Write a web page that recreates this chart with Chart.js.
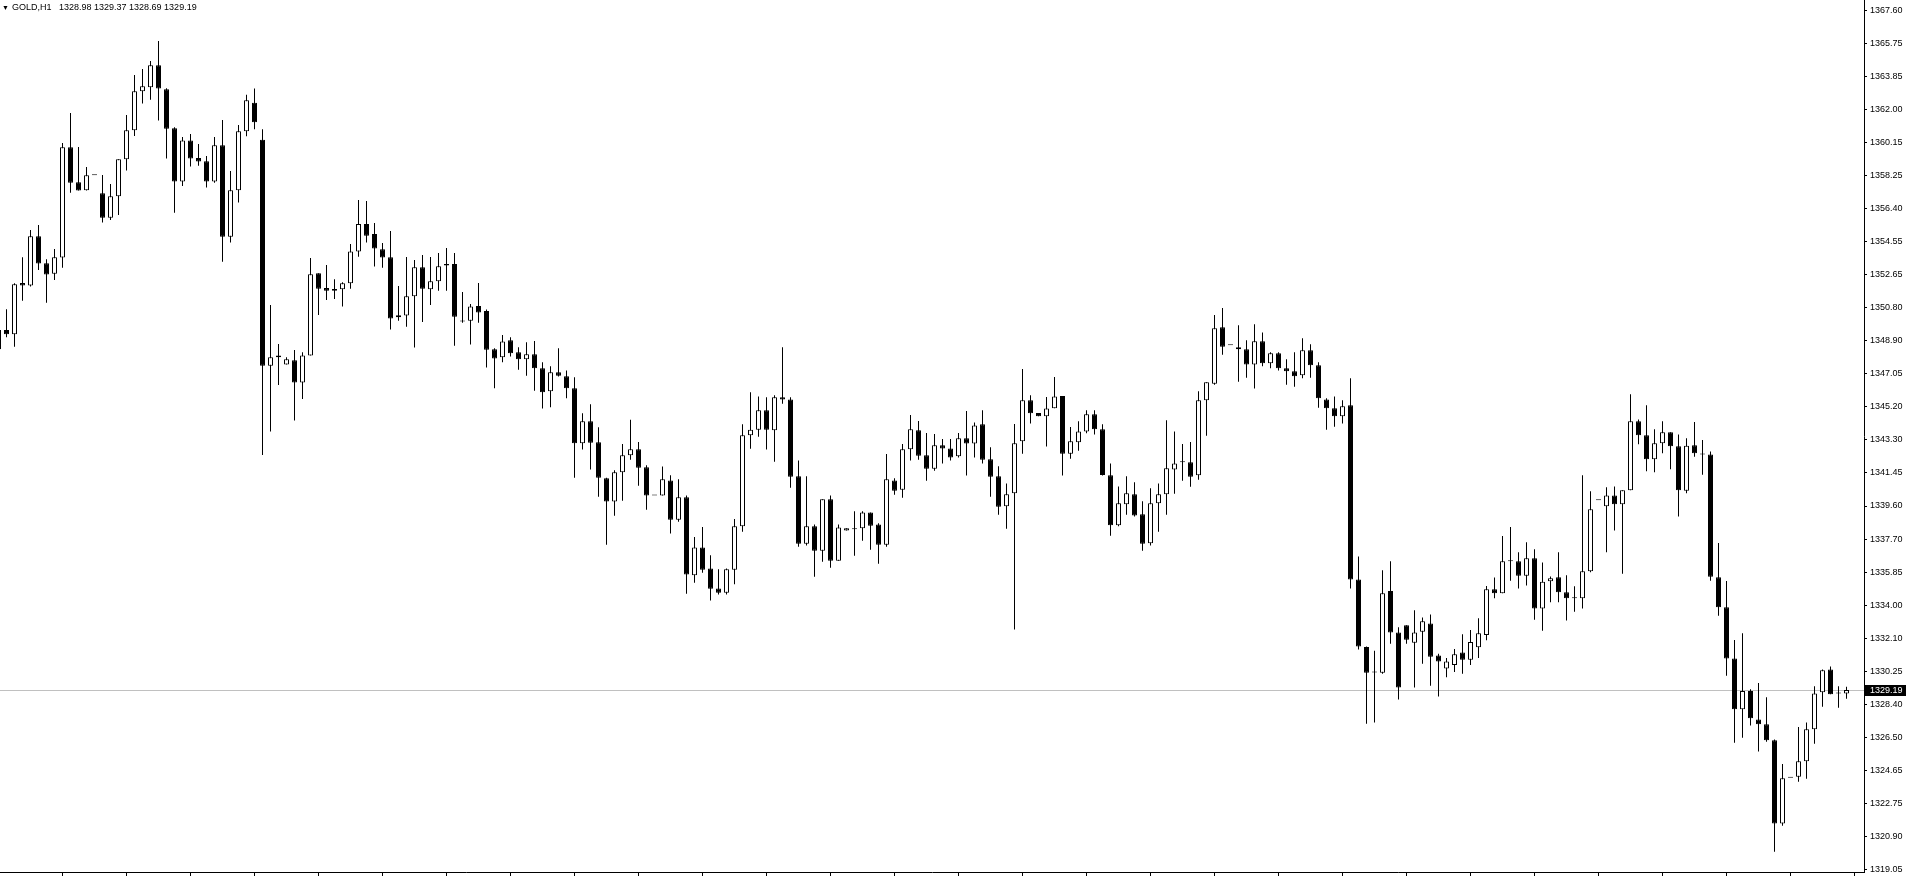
<!DOCTYPE html>
<html>
<head>
<meta charset="utf-8">
<script src="https://cdn.jsdelivr.net/npm/chart.js@4.4.0/dist/chart.umd.min.js"></script>
<style>
  html, body { margin: 0; padding: 0; background: #fff; overflow: hidden; }
  #wrap { position: relative; width: 1906px; height: 876px; }
  #hdr { position: absolute; left: 2px; top: 2px; font: 9px 'Liberation Sans', Arial, sans-serif; line-height: 11px; color: #000; white-space: pre; }
  #hdr .tri { font-size: 7px; display: inline-block; width: 10px; vertical-align: top; line-height: 11px; }
</style>
</head>
<body>
<div id="wrap">
  <canvas id="myChart" width="1906" height="876"></canvas>
  <div id="hdr"><span class="tri">▼</span><span id="hdrText"></span></div>
</div>
<script>
// GOLD hourly bars, oldest first
const symbol = 'GOLD,H1';

const opens = [
  1348.45, 1349.55, 1349.30, 1352.21, 1352.06, 1354.85, 1353.32, 1352.73, 1353.64, 1359.88,
  1357.90, 1357.45, 1358.30, 1357.28, 1355.90, 1357.11, 1359.20, 1360.84, 1363.05, 1363.27,
  1364.52, 1363.16, 1360.95, 1357.94, 1360.27, 1359.28, 1359.09, 1357.94, 1359.99, 1354.82,
  1357.45, 1360.78, 1362.40, 1360.30, 1347.53, 1348.00, 1347.60, 1347.83, 1346.57, 1348.11,
  1352.75, 1351.92, 1351.87, 1351.85, 1352.19, 1353.99, 1355.54, 1354.98, 1354.11, 1353.66,
  1350.27, 1350.36, 1351.45, 1353.09, 1351.85, 1352.30, 1353.28, 1353.28, 1350.02, 1350.07,
  1350.90, 1350.62, 1348.45, 1348.00, 1348.96, 1348.28, 1347.89, 1348.17, 1347.38, 1346.08,
  1347.15, 1346.93, 1346.25, 1343.14, 1344.38, 1343.19, 1341.16, 1339.84, 1341.50, 1342.46,
  1342.80, 1341.78, 1340.18, 1340.18, 1341.04, 1338.82, 1340.08, 1335.67, 1337.25, 1336.06,
  1334.93, 1334.69, 1335.99, 1338.44, 1343.59, 1343.91, 1345.00, 1343.87, 1345.74, 1345.62,
  1341.27, 1337.46, 1338.44, 1337.06, 1339.97, 1336.50, 1338.21, 1338.33, 1338.33, 1339.23,
  1338.55, 1337.40, 1341.04, 1340.51, 1342.80, 1343.87, 1342.46, 1341.70, 1343.02, 1342.85,
  1342.40, 1343.42, 1343.12, 1344.21, 1342.23, 1341.27, 1339.57, 1340.31, 1343.25, 1345.57,
  1344.85, 1344.66, 1345.12, 1345.81, 1342.55, 1343.19, 1343.81, 1344.78, 1343.93, 1341.33,
  1338.50, 1339.69, 1340.25, 1339.12, 1337.48, 1339.74, 1340.25, 1341.66, 1342.12, 1342.06,
  1341.33, 1345.57, 1346.51, 1349.70, 1348.68, 1348.57, 1348.45, 1347.60, 1348.91, 1347.66,
  1348.23, 1347.38, 1347.21, 1346.98, 1348.40, 1347.55, 1345.62, 1345.12, 1344.66, 1345.29,
  1335.44, 1331.62, 1330.18, 1330.16, 1334.78, 1332.43, 1332.84, 1331.86, 1332.48, 1332.95,
  1331.13, 1330.40, 1330.60, 1331.30, 1330.90, 1331.60, 1332.30, 1334.88, 1334.65, 1336.46,
  1336.46, 1335.65, 1336.63, 1333.80, 1335.33, 1335.56, 1334.71, 1334.37, 1334.37, 1335.90,
  1339.91, 1339.57, 1340.19, 1339.69, 1340.48, 1344.38, 1343.59, 1342.23, 1343.14, 1343.76,
  1342.97, 1340.46, 1343.02, 1342.51, 1342.51, 1335.56, 1333.86, 1330.97, 1328.09, 1329.13,
  1327.52, 1327.24, 1326.34, 1321.64, 1324.22, 1324.28, 1325.15, 1326.96, 1329.05, 1330.35,
  1328.98, 1328.98
];

const highs = [
  1349.70, 1350.72, 1352.19, 1353.66, 1355.20, 1355.49, 1353.54, 1354.13, 1360.12, 1361.82,
  1359.90, 1358.77, 1358.30, 1358.31, 1357.81, 1359.20, 1361.70, 1363.97, 1364.31, 1364.76,
  1365.89, 1363.22, 1361.01, 1360.46, 1360.63, 1360.07, 1359.39, 1360.46, 1361.42, 1358.54,
  1361.14, 1362.85, 1363.20, 1360.90, 1350.96, 1348.75, 1348.00, 1348.42, 1348.28, 1353.62,
  1352.75, 1353.22, 1352.41, 1352.24, 1354.41, 1356.90, 1356.84, 1355.60, 1354.47, 1355.15,
  1352.03, 1353.68, 1353.51, 1353.79, 1353.68, 1353.90, 1354.18, 1353.90, 1351.70, 1351.02,
  1352.21, 1350.70, 1348.51, 1349.26, 1349.13, 1348.57, 1348.85, 1348.92, 1347.72, 1347.49,
  1348.51, 1347.26, 1346.87, 1344.83, 1345.34, 1344.04, 1341.19, 1341.61, 1343.10, 1344.47,
  1343.21, 1341.89, 1340.18, 1341.83, 1341.33, 1341.10, 1340.18, 1337.84, 1338.40, 1336.80,
  1336.01, 1336.06, 1338.86, 1344.21, 1346.02, 1345.79, 1345.74, 1345.85, 1348.57, 1345.74,
  1342.17, 1341.27, 1338.55, 1339.97, 1340.19, 1338.55, 1338.33, 1339.29, 1339.29, 1339.23,
  1338.61, 1342.53, 1341.16, 1343.10, 1344.74, 1344.40, 1343.72, 1343.66, 1343.38, 1343.38,
  1343.72, 1344.96, 1344.32, 1345.00, 1342.91, 1341.84, 1340.87, 1344.23, 1347.34, 1345.85,
  1344.85, 1345.76, 1346.89, 1345.81, 1344.06, 1344.38, 1345.00, 1345.00, 1344.21, 1342.00,
  1340.70, 1341.27, 1340.93, 1339.86, 1340.59, 1340.87, 1344.44, 1343.81, 1343.10, 1343.21,
  1346.08, 1346.59, 1350.39, 1350.79, 1348.68, 1349.81, 1348.96, 1349.87, 1349.41, 1348.28,
  1348.28, 1347.89, 1348.28, 1349.08, 1348.74, 1347.72, 1345.68, 1345.79, 1345.57, 1346.81,
  1336.74, 1331.64, 1331.41, 1335.95, 1336.46, 1332.73, 1332.84, 1333.69, 1333.29, 1333.46,
  1331.24, 1331.00, 1331.50, 1332.33, 1332.58, 1333.24, 1335.07, 1335.54, 1337.89, 1338.40,
  1336.97, 1337.54, 1337.14, 1336.40, 1335.61, 1336.97, 1335.67, 1335.05, 1341.33, 1340.42,
  1339.91, 1340.65, 1340.70, 1340.48, 1345.91, 1344.49, 1345.29, 1343.93, 1344.38, 1343.76,
  1343.64, 1343.42, 1344.34, 1343.32, 1342.68, 1337.50, 1335.35, 1332.01, 1332.39, 1329.22,
  1329.58, 1328.77, 1326.39, 1325.00, 1324.22, 1327.09, 1327.35, 1329.39, 1330.35, 1330.52,
  1329.39, 1329.37
];

const lows = [
  1348.30, 1349.13, 1348.60, 1351.20, 1352.00, 1352.94, 1351.09, 1352.37, 1353.07, 1357.31,
  1357.43, 1357.43, 1358.30, 1355.62, 1355.77, 1356.05, 1358.56, 1360.52, 1362.35, 1362.57,
  1361.39, 1359.24, 1356.18, 1357.69, 1358.79, 1358.84, 1357.60, 1357.88, 1353.41, 1354.49,
  1356.75, 1360.50, 1360.90, 1342.48, 1343.80, 1346.43, 1347.60, 1344.42, 1345.64, 1348.11,
  1350.39, 1351.24, 1351.30, 1350.87, 1351.88, 1353.69, 1354.49, 1353.13, 1353.07, 1349.57,
  1350.07, 1349.73, 1348.55, 1350.00, 1350.96, 1351.77, 1351.77, 1348.66, 1349.96, 1348.72,
  1349.96, 1347.42, 1346.25, 1347.72, 1348.04, 1347.30, 1346.96, 1346.11, 1345.11, 1345.17,
  1346.91, 1345.68, 1341.19, 1342.78, 1341.65, 1340.12, 1337.40, 1339.04, 1339.89, 1342.21,
  1340.74, 1339.38, 1340.18, 1340.18, 1338.03, 1338.70, 1334.63, 1335.25, 1335.82, 1334.24,
  1334.58, 1334.58, 1335.16, 1338.14, 1342.83, 1343.51, 1342.78, 1342.10, 1345.38, 1340.63,
  1337.29, 1337.35, 1335.59, 1336.44, 1336.10, 1336.50, 1338.21, 1336.78, 1337.63, 1337.12,
  1336.33, 1337.29, 1340.23, 1340.06, 1342.17, 1342.21, 1341.02, 1341.59, 1341.99, 1342.17,
  1342.33, 1341.31, 1342.33, 1341.99, 1340.12, 1339.10, 1338.31, 1332.61, 1342.55, 1344.25,
  1344.66, 1342.95, 1345.12, 1341.31, 1342.27, 1342.72, 1343.70, 1343.64, 1341.31, 1337.91,
  1338.44, 1339.10, 1338.99, 1337.06, 1337.35, 1338.14, 1339.10, 1340.29, 1341.02, 1340.68,
  1341.08, 1343.57, 1346.45, 1348.15, 1348.68, 1346.62, 1346.85, 1346.23, 1347.49, 1347.38,
  1347.25, 1346.45, 1346.34, 1346.81, 1346.85, 1345.15, 1343.91, 1344.08, 1344.25, 1334.93,
  1331.47, 1327.28, 1327.34, 1330.11, 1331.80, 1328.64, 1331.80, 1329.32, 1330.67, 1329.43,
  1328.81, 1329.90, 1330.20, 1330.10, 1330.60, 1331.00, 1332.00, 1334.37, 1334.65, 1335.37,
  1334.92, 1335.09, 1333.16, 1332.54, 1334.14, 1334.14, 1333.12, 1333.61, 1333.80, 1335.84,
  1339.91, 1336.97, 1338.20, 1335.76, 1340.48, 1343.08, 1341.55, 1341.50, 1342.57, 1341.67,
  1338.99, 1340.31, 1342.38, 1341.36, 1335.37, 1333.39, 1329.99, 1326.20, 1326.49, 1327.17,
  1325.70, 1326.26, 1320.04, 1321.51, 1324.22, 1324.00, 1324.17, 1326.15, 1328.24, 1328.94,
  1328.18, 1328.69
];

const closes = [
  1349.55, 1349.30, 1352.13, 1352.06, 1354.85, 1353.30, 1352.68, 1353.66, 1359.88, 1357.88,
  1357.43, 1358.30, 1358.30, 1355.90, 1357.11, 1359.20, 1360.84, 1363.05, 1363.33, 1364.52,
  1363.20, 1360.93, 1357.94, 1360.27, 1359.24, 1359.07, 1357.94, 1359.99, 1354.82, 1357.45,
  1360.78, 1362.54, 1361.30, 1347.53, 1348.00, 1348.11, 1347.89, 1346.57, 1348.11, 1352.70,
  1351.88, 1351.77, 1351.77, 1352.19, 1353.99, 1355.54, 1354.88, 1354.15, 1353.64, 1350.19,
  1350.38, 1351.45, 1353.09, 1351.88, 1352.30, 1353.15, 1353.19, 1350.30, 1350.02, 1350.88,
  1350.53, 1348.43, 1347.94, 1348.90, 1348.23, 1347.89, 1348.17, 1347.38, 1346.02, 1347.15,
  1346.96, 1346.25, 1343.14, 1344.38, 1343.17, 1341.19, 1339.84, 1341.50, 1342.46, 1342.80,
  1341.76, 1340.18, 1340.18, 1341.10, 1338.82, 1340.08, 1335.71, 1337.25, 1335.99, 1334.91,
  1334.69, 1336.01, 1338.44, 1343.59, 1343.91, 1345.00, 1343.91, 1345.74, 1345.62, 1341.25,
  1337.46, 1338.44, 1337.06, 1339.97, 1336.50, 1338.38, 1338.33, 1338.27, 1339.23, 1338.48,
  1337.40, 1341.10, 1340.46, 1342.80, 1343.93, 1342.44, 1341.70, 1343.02, 1342.85, 1342.34,
  1343.42, 1343.12, 1344.15, 1342.21, 1341.25, 1339.55, 1340.25, 1343.14, 1345.57, 1344.83,
  1344.66, 1345.10, 1345.79, 1342.55, 1343.25, 1343.81, 1344.78, 1343.93, 1341.35, 1338.50,
  1339.74, 1340.31, 1339.06, 1337.46, 1339.74, 1340.25, 1341.72, 1342.00, 1342.06, 1341.25,
  1345.57, 1346.59, 1349.64, 1348.60, 1348.68, 1348.45, 1347.60, 1348.91, 1347.66, 1348.23,
  1347.38, 1347.21, 1346.93, 1348.40, 1347.55, 1345.68, 1345.12, 1344.66, 1345.23, 1335.44,
  1331.64, 1330.16, 1330.18, 1334.65, 1332.43, 1329.32, 1332.03, 1332.43, 1333.07, 1331.07,
  1330.79, 1330.80, 1331.20, 1330.90, 1331.90, 1332.40, 1334.88, 1334.65, 1336.46, 1336.46,
  1335.65, 1336.63, 1333.80, 1335.31, 1335.50, 1334.71, 1334.37, 1334.37, 1335.90, 1339.40,
  1339.91, 1340.19, 1339.69, 1340.48, 1344.38, 1343.59, 1342.23, 1343.14, 1343.76, 1342.97,
  1340.48, 1343.00, 1342.57, 1342.51, 1335.59, 1333.86, 1330.97, 1328.09, 1329.13, 1327.58,
  1327.24, 1326.34, 1321.64, 1324.19, 1324.22, 1325.15, 1326.96, 1328.99, 1330.30, 1328.94,
  1328.98, 1329.19
];

// right price scale labels, bottom to top
const priceTicks = [
  '1319.05', '1320.90', '1322.75', '1324.65', '1326.50', '1328.40', '1330.25', '1332.10',
  '1334.00', '1335.85', '1337.70', '1339.60', '1341.45', '1343.30', '1345.20', '1347.05',
  '1348.90', '1350.80', '1352.65', '1354.55', '1356.40', '1358.25', '1360.15', '1362.00',
  '1363.85', '1365.75', '1367.60'
];

const last = closes.length - 1;
const priceTop = 1368.21;
const priceBottom = 1318.89;
const tickStep = (parseFloat(priceTicks[priceTicks.length - 1]) - parseFloat(priceTicks[0])) / (priceTicks.length - 1);

document.getElementById('hdrText').textContent =
  symbol + '   ' + [opens[last], highs[last], lows[last], closes[last]].map(v => v.toFixed(2)).join(' ');

const bodies = opens.map((o, i) => ({ x: i, y: [o, closes[i]] }));
const wicks = opens.map((o, i) => ({ x: i, y: [lows[i], highs[i]] }));
const bodyColors = opens.map((o, i) => closes[i] >= o ? '#ffffff' : '#000000');

// grey bid line and the black price box on the scale
const lastPrice = {
  id: 'lastPrice',
  beforeDatasetsDraw(chart) {
    const { ctx, chartArea, scales } = chart;
    const y = Math.round(scales.y.getPixelForValue(closes[last])) + 0.5;
    ctx.save();
    ctx.strokeStyle = '#c0c0c0';
    ctx.lineWidth = 1;
    ctx.beginPath();
    ctx.moveTo(chartArea.left, y);
    ctx.lineTo(chartArea.right, y);
    ctx.stroke();
    ctx.restore();
  },
  afterDraw(chart) {
    const { ctx, chartArea, scales } = chart;
    const y = Math.round(scales.y.getPixelForValue(closes[last]));
    ctx.save();
    ctx.fillStyle = '#000';
    ctx.fillRect(chartArea.right + 1, y - 5, chart.width - chartArea.right - 1, 11);
    ctx.fillStyle = '#fff';
    ctx.font = "9px 'Liberation Sans', Arial, sans-serif";
    ctx.textBaseline = 'middle';
    ctx.fillText(closes[last].toFixed(2), chartArea.right + 6, y + 0.5);
    ctx.restore();
  }
};

const ctx = document.getElementById('myChart').getContext('2d');
const myChart = new Chart(ctx, {
  type: 'bar',
  data: {
    datasets: [
      {
        data: bodies,
        backgroundColor: bodyColors,
        borderColor: '#000',
        borderWidth: 1,
        borderSkipped: false,
        maxBarThickness: 5,
        minBarLength: 1,
        grouped: false,
        order: 0
      },
      {
        data: wicks,
        backgroundColor: '#000',
        borderWidth: 0,
        maxBarThickness: 1,
        grouped: false,
        order: 1
      }
    ]
  },
  options: {
    responsive: false,
    animation: false,
    devicePixelRatio: 1,
    layout: { padding: 0 },
    plugins: { legend: { display: false }, tooltip: { enabled: false } },
    scales: {
      x: {
        type: 'linear',
        min: 0.1875,
        max: 233.1875,
        offset: false,
        afterBuildTicks: s => {
          const t = [];
          for (let k = 8; k <= 232; k += 8) t.push({ value: k });
          s.ticks = t;
        },
        ticks: { display: false },
        grid: { offset: false, drawOnChartArea: false, drawTicks: true, tickLength: 4, color: '#000' },
        border: { display: true, color: '#000' },
        afterFit: s => { s.height = 4; s.paddingLeft = 0; s.paddingRight = 0; }
      },
      y: {
        position: 'right',
        min: priceBottom,
        max: priceTop,
        afterBuildTicks: s => {
          s.ticks = priceTicks.map((t, j) => ({ value: parseFloat(priceTicks[0]) + j * tickStep }));
        },
        ticks: {
          callback: (v, j) => priceTicks[j],
          autoSkip: false,
          padding: 3,
          color: '#000',
          font: { family: "'Liberation Sans', Arial, sans-serif", size: 9 }
        },
        grid: { drawOnChartArea: false, drawTicks: true, tickLength: 3, color: '#000' },
        border: { display: true, color: '#000' },
        afterFit: s => { s.width = 42; s.paddingTop = 0; s.paddingBottom = 0; }
      }
    }
  },
  plugins: [lastPrice]
});
</script>
</body>
</html>
